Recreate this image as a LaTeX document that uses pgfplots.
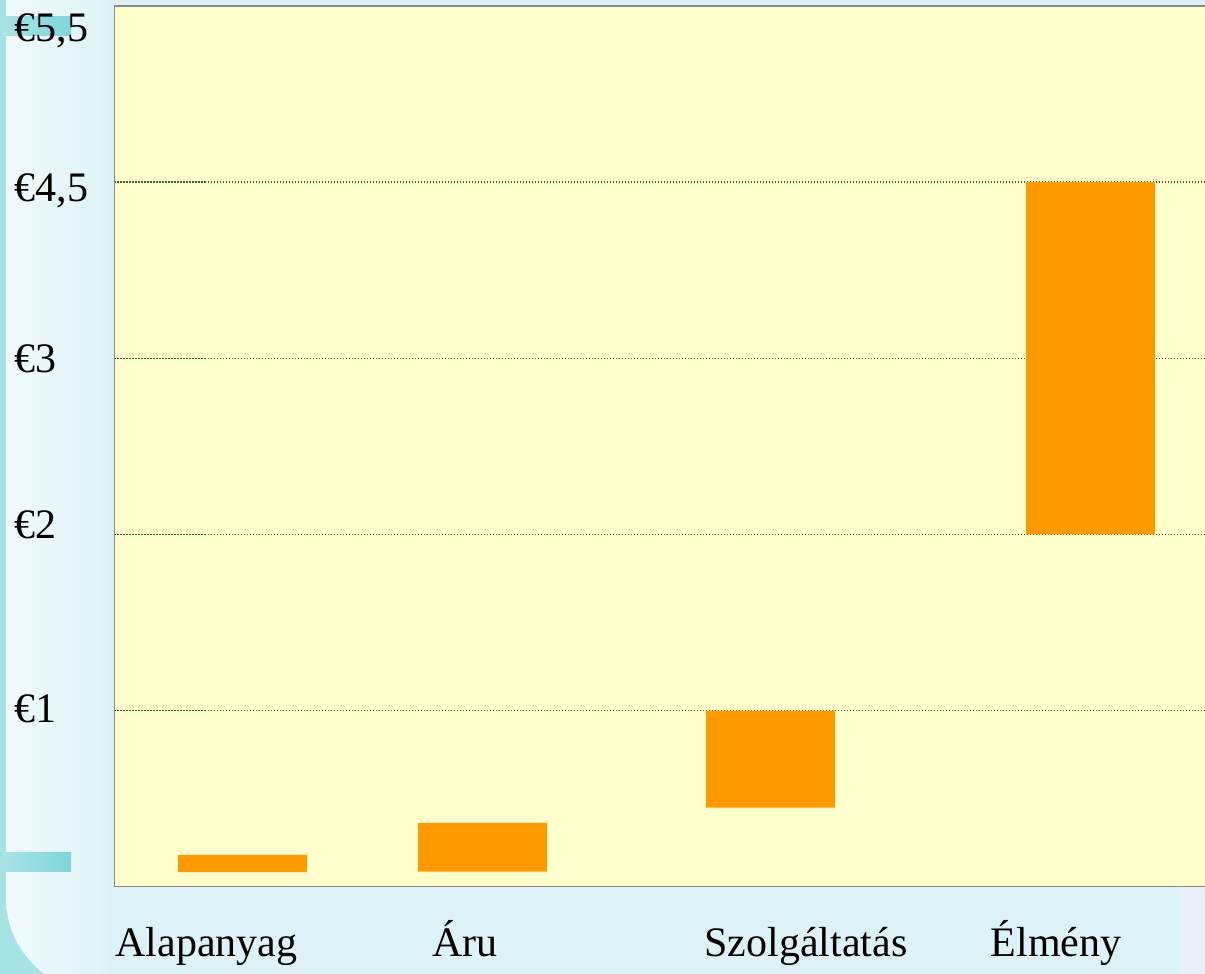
\documentclass[border=0pt]{standalone}
\usepackage{pgfplots}
\pgfplotsset{compat=1.18}
\usepackage{fontspec}
\setmainfont{Liberation Serif}
\definecolor{bgc}{HTML}{DDF2F6}
\definecolor{panelL}{HTML}{F0FAFD}
\definecolor{stripc}{HTML}{A6E3E5}
\definecolor{barc}{HTML}{7ED6DA}
\definecolor{plotbg}{HTML}{FFFFCC}
\definecolor{barfill}{HTML}{FF9900}
\definecolor{gridc}{HTML}{336633}
\definecolor{framec}{HTML}{8A8A8A}
\definecolor{rightc}{HTML}{EAF0F8}
\pgfplotstableread{
x base h
242.5 0.083 0.097
482.5 0.085 0.277
770.5 0.449 0.551
1090.5 2.0 2.0
}\bars
\begin{document}
\begin{tikzpicture}[x=1pt,y=1pt]
\path[use as bounding box] (0,0) rectangle (1205,974);
% background decoration
\fill[stripc] (0,0) rectangle (1205,974);
\begin{scope}
\clip[rounded corners=95pt] (6,-18.5) rectangle (1400,1100);
\fill[bgc] (0,0) rectangle (1205,974);
\shade[left color=panelL, right color=bgc] (6,0) rectangle (114,974);
\end{scope}
\fill[rightc] (1180,0) rectangle (1205,87);
\shade[left color=stripc, right color=barc] (6,938) rectangle (71,957);
\shade[left color=stripc, right color=barc] (6,102) rectangle (71,121);
\begin{axis}[
  at={(114.5pt,87.3pt)}, anchor=south west,
  scale only axis, width=1100pt, height=880.7pt,
  xmin=114.5, xmax=1214.5, ymin=0, ymax=5,
  axis background/.style={fill=plotbg},
  axis line style={draw=framec, line width=1.5pt},
  major tick length=0pt,
  ybar stacked, bar width=129,
  xtick={206.5,465,806,1056},
  xticklabels={Alapanyag,Áru,Szolgáltatás,Élmény},
  ytick={1,2,3,4,5},
  yticklabels={\raisebox{2pt}{€1},\raisebox{10pt}{€2},€3,\raisebox{-5.5pt}{{€4,5}},\raisebox{-22pt}{{€5,5}}},
  tick label style={font=\fontsize{42}{48}\selectfont, inner sep=0pt},
  xticklabel style={anchor=base, yshift=-70pt},
  yticklabel style={anchor=base west, xshift=-100pt, yshift=-14pt},
  ymajorgrids,
  grid style={gridc, line width=1.3pt, dash pattern=on 1.3pt off 1.7pt},
]
\addplot[draw=none, fill=none] table[x=x, y=base] {\bars};
\addplot[draw=none, fill=barfill] table[x=x, y=h] {\bars};
\end{axis}
\end{tikzpicture}
\end{document}
